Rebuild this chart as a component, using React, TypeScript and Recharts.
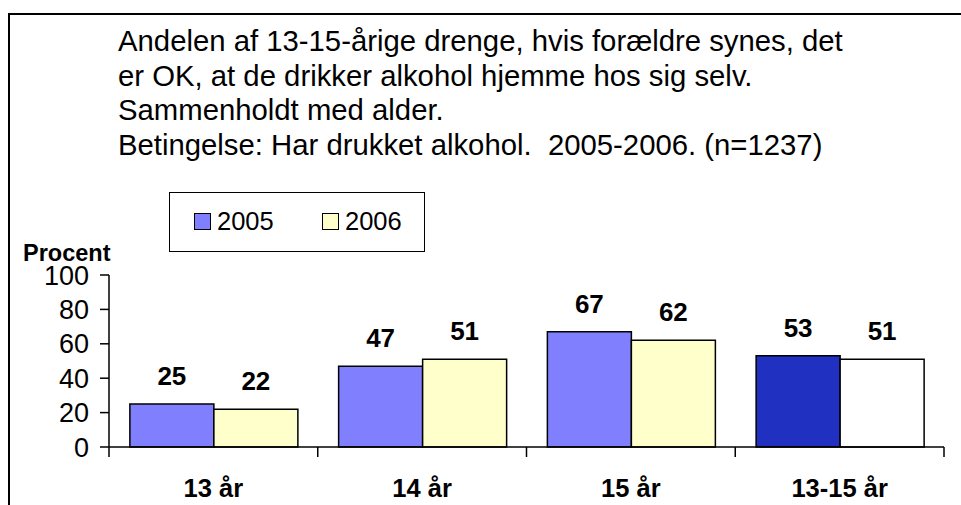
import { BarChart, Bar, XAxis, YAxis, Cell, LabelList } from 'recharts';

const categories = ['13 år', '14 år', '15 år', '13-15 år'];
const values2005 = [25, 47, 67, 53];
const values2006 = [22, 51, 62, 51];
const seriesNames = ['2005', '2006'];
const yTicks = [0, 20, 40, 60, 80, 100];
const titleLines = [
  'Andelen af 13-15-årige drenge, hvis forældre synes, det',
  'er OK, at de drikker alkohol hjemme hos sig selv.',
  'Sammenholdt med alder.',
  'Betingelse: Har drukket alkohol.  2005-2006. (n=1237)',
];
const yLabel = 'Procent';

// colours: ordinary years, and the darker/white pair for the 13-15 total
const colors2005 = ['#8080ff', '#8080ff', '#8080ff', '#2030c0'];
const colors2006 = ['#ffffcc', '#ffffcc', '#ffffcc', '#ffffff'];

const data = categories.map((name, i) => ({
  name,
  y2005: values2005[i],
  y2006: values2006[i],
}));

const W = 961;
const H = 505;
const margin = { top: 275, right: 17, bottom: 0, left: 49 };
const Y_AXIS_W = 60;
const BAND = (W - margin.left - Y_AXIS_W - margin.right) / categories.length;
const FONT = '"Liberation Sans", Arial, sans-serif';

function CategoryTick(props: any) {
  const { x, y, payload, index } = props;
  const half = payload?.offset || BAND / 2;
  const last = index === categories.length - 1;
  return (
    <g>
      <line x1={x - half} x2={x - half} y1={y} y2={y + 10} stroke="#000" strokeWidth={1.5} />
      {last && <line x1={x + half} x2={x + half} y1={y} y2={y + 10} stroke="#000" strokeWidth={1.5} />}
      <text x={x} y={y + 50} textAnchor="middle" fontWeight="bold" fontSize={25.5} fill="#000">
        {payload.value}
      </text>
    </g>
  );
}

export default function App() {
  return (
    <div
      style={{
        position: 'absolute',
        left: 0,
        top: 0,
        width: W,
        height: H,
        overflow: 'hidden',
        background: '#fff',
        fontFamily: FONT,
        color: '#000',
      }}
    >
      {/* frame */}
      <div
        style={{
          position: 'absolute',
          left: 8,
          top: 13,
          right: -4,
          bottom: -4,
          borderLeft: '2px solid #000',
          borderTop: '2px solid #000',
        }}
      />
      <div
        style={{
          position: 'absolute',
          left: 118,
          top: 24,
          fontSize: 29.3,
          lineHeight: '34.6px',
          whiteSpace: 'pre',
        }}
      >
        {titleLines.map((t) => (
          <div key={t}>{t}</div>
        ))}
      </div>

      {/* legend */}
      <div
        style={{
          position: 'absolute',
          left: 169,
          top: 192,
          width: 256,
          height: 60,
          boxSizing: 'border-box',
          border: '1.5px solid #000',
          fontSize: 25.5,
        }}
      >
        {seriesNames.map((s, i) => (
          <div
            key={s}
            style={{
              position: 'absolute',
              left: i === 0 ? 24 : 152,
              top: 13,
              display: 'flex',
              alignItems: 'center',
              height: 30,
            }}
          >
            <span
              style={{
                display: 'inline-block',
                width: 17,
                height: 17,
                boxSizing: 'border-box',
                border: '1px solid #000',
                background: i === 0 ? colors2005[0] : colors2006[0],
                marginRight: 6,
              }}
            />
            <span>{s}</span>
          </div>
        ))}
      </div>

      <div
        style={{
          position: 'absolute',
          left: 23,
          top: 240,
          fontSize: 23.5,
          fontWeight: 'bold',
        }}
      >
        {yLabel}
      </div>

      <div style={{ position: 'absolute', left: 0, top: 0 }}>
        <BarChart width={W} height={H} data={data} margin={margin} barCategoryGap="10%" barGap={0}>
          <XAxis
            dataKey="name"
            height={58}
            tickSize={0}
            tickMargin={0}
            axisLine={{ stroke: '#000', strokeWidth: 1.5 }}
            tickLine={false}
            tick={<CategoryTick />}
            interval={0}
          />
          <YAxis
            width={Y_AXIS_W}
            domain={[0, 100]}
            ticks={yTicks}
            interval={0}
            tickSize={9}
            tickMargin={11}
            axisLine={{ stroke: '#000', strokeWidth: 1.5 }}
            tickLine={{ stroke: '#000', strokeWidth: 1.5 }}
            tick={{ fill: '#000', fontSize: 27 }}
          />
          <Bar dataKey="y2005" isAnimationActive={false} stroke="#000" strokeWidth={1.5}>
            {data.map((d, i) => (
              <Cell key={d.name} fill={colors2005[i]} />
            ))}
            <LabelList dataKey="y2005" position="top" offset={19} fill="#000" fontWeight="bold" fontSize={26} />
          </Bar>
          <Bar dataKey="y2006" isAnimationActive={false} stroke="#000" strokeWidth={1.5}>
            {data.map((d, i) => (
              <Cell key={d.name} fill={colors2006[i]} />
            ))}
            <LabelList dataKey="y2006" position="top" offset={19} fill="#000" fontWeight="bold" fontSize={26} />
          </Bar>
        </BarChart>
      </div>
    </div>
  );
}
